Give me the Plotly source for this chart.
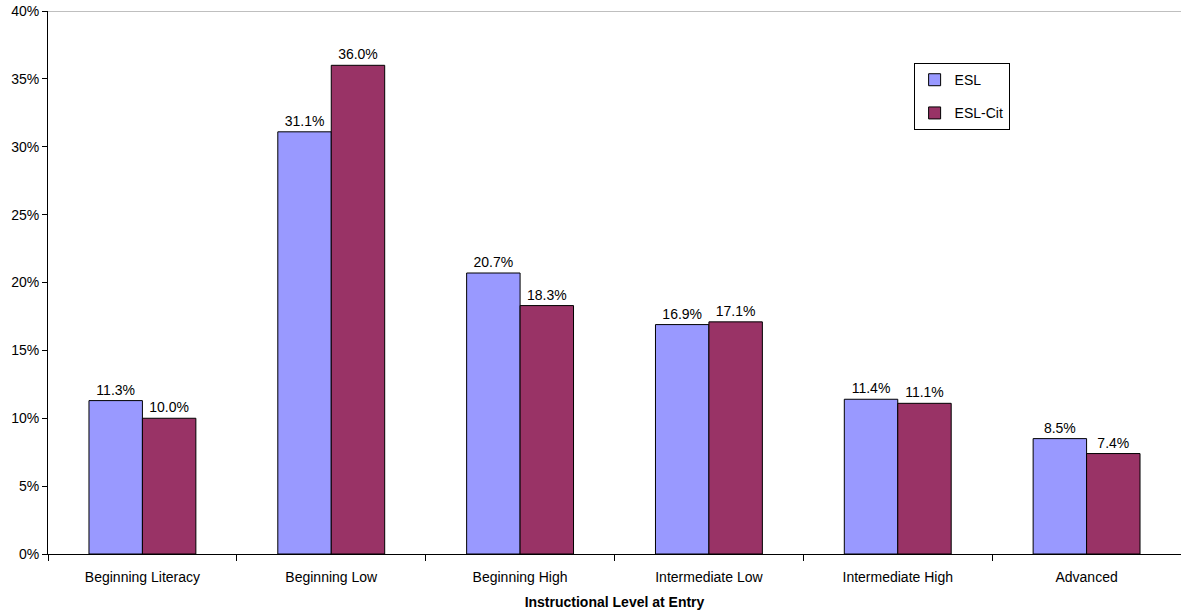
import plotly.graph_objects as go

# Share of learners by instructional level at entry
levels = ["Beginning Literacy", "Beginning Low", "Beginning High",
          "Intermediate Low", "Intermediate High", "Advanced"]
esl = [11.3, 31.1, 20.7, 16.9, 11.4, 8.5]
esl_cit = [10.0, 36.0, 18.3, 17.1, 11.1, 7.4]
y_ticks = [0, 5, 10, 15, 20, 25, 30, 35, 40]
y_tick_text = [f"{v}%" for v in y_ticks]

FONT = "Liberation Sans, Arial, sans-serif"
FS = 14

fig = go.Figure()
fig.add_trace(go.Bar(
    x=levels, y=esl, name="ESL",
    marker=dict(color="#9999FF", line=dict(color="black", width=1)),
    texttemplate="%{y:.1f}%", textposition="outside",
    textfont=dict(family=FONT, size=FS, color="black"),
    cliponaxis=False, legendgroup="a",
))
fig.add_trace(go.Bar(
    x=levels, y=esl_cit, name="ESL-Cit",
    marker=dict(color="#993366", line=dict(color="black", width=1)),
    texttemplate="%{y:.1f}%", textposition="outside",
    textfont=dict(family=FONT, size=FS, color="black"),
    cliponaxis=False, legendgroup="b",
))

fig.update_layout(
    width=1181, height=612,
    margin=dict(l=48, r=0, t=11, b=58),
    paper_bgcolor="white", plot_bgcolor="white",
    font=dict(family=FONT, size=FS, color="black"),
    barmode="group", bargap=0.434, bargroupgap=0,
    showlegend=True,
    legend=dict(
        x=0.764, y=0.904, xanchor="left", yanchor="top",
        bordercolor="black", borderwidth=1, bgcolor="white",
        font=dict(family=FONT, size=FS, color="black"),
        tracegroupgap=12, itemwidth=30,
    ),
    xaxis=dict(
        type="category", tickson="boundaries", ticks="outside", ticklen=6,
        tickcolor="black", showline=True, linecolor="black", linewidth=1,
        tickfont=dict(family=FONT, size=FS), ticklabelstandoff=10,
        title=dict(text="<b>Instructional Level at Entry</b>",
                   font=dict(family=FONT, size=FS), standoff=13),
        showgrid=False,
    ),
    yaxis=dict(
        range=[0, 40], tickmode="array", tickvals=y_ticks, ticktext=y_tick_text,
        ticks="outside", ticklen=5, tickcolor="black",
        showline=True, linecolor="black", linewidth=1,
        showgrid=False, zeroline=False,
        tickfont=dict(family=FONT, size=FS),
    ),
)

# Upper frame line at the top of the value range
fig.add_shape(type="line", xref="paper", yref="y", x0=0, x1=1, y0=40, y1=40,
              line=dict(color="#808080", width=1))

fig.write_html("out.html")
